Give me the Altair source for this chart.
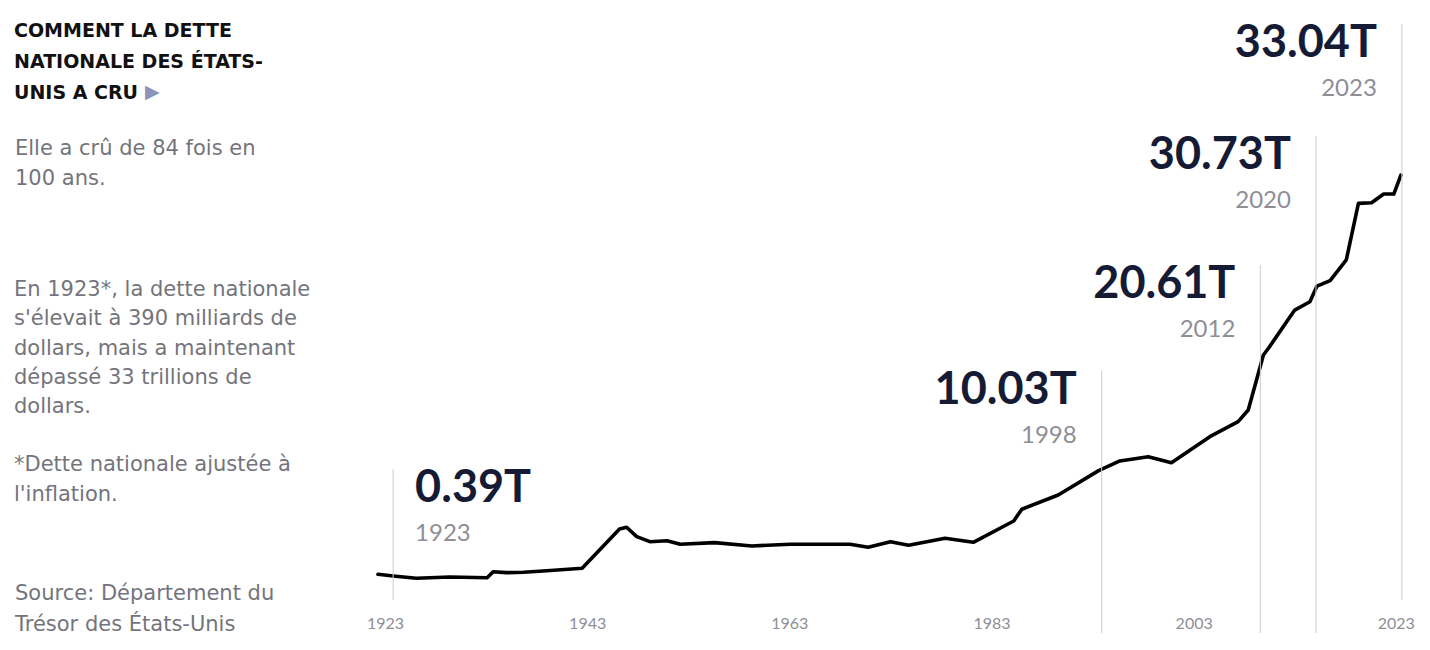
import altair as alt
import pandas as pd

# ---------------- data ----------------
years = [1922.3, 1923.8, 1926.1, 1929.4, 1933.1, 1933.7, 1935.0, 1936.7, 1939.0,
         1942.5, 1946.2, 1946.9, 1947.9, 1949.2, 1950.9, 1952.2, 1955.6, 1959.3,
         1963.1, 1969.0, 1970.8, 1973.0, 1974.8, 1978.4, 1981.2, 1985.2, 1986.0,
         1989.6, 1993.6, 1995.7, 1998.5, 2000.8, 2004.6, 2007.4, 2008.4, 2009.9,
         2010.4, 2013.0, 2014.5, 2015.2, 2016.5, 2018.1, 2019.3, 2020.6, 2021.8,
         2022.8, 2023.5]
debt = [0.45, 0.31, 0.12, 0.23, 0.17, 0.66, 0.58, 0.61, 0.74,
        0.94, 4.15, 4.29, 3.52, 3.11, 3.19, 2.90, 3.03, 2.76,
        2.90, 2.90, 2.65, 3.11, 2.82, 3.39, 3.06, 4.80, 5.76,
        6.92, 8.91, 9.70, 10.05, 9.56, 11.68, 12.91, 13.86, 18.35,
        18.90, 22.02, 22.70, 23.98, 24.42, 26.11, 30.73, 30.78, 31.49,
        31.49, 33.04]

ann_value = ["0.39T", "10.03T", "20.61T", "30.73T", "33.04T"]
ann_year = ["1923", "1998", "2012", "2020", "2023"]
ann_side = ["right", "left", "left", "left", "left"]
# where the annotation stems stand (year units) and how far they reach (T units)
ann_stem_x = [1923.8, 1993.9, 2009.6, 2015.1, 2023.6]
ann_stem_top = [9.04, 17.05, 25.70, 36.24, 45.37]
ann_stem_bottom = [-1.65, -4.34, -4.34, -4.34, -1.65]

tick_years = [1923, 1943, 1963, 1983, 2003, 2023]

title_lines = ["COMMENT LA DETTE", "NATIONALE DES ÉTATS-", "UNIS A CRU"]
intro_lines = ["Elle a crû de 84 fois en", "100 ans."]
body_lines = ["En 1923*, la dette nationale", "s'élevait à 390 milliards de",
              "dollars, mais a maintenant", "dépassé 33 trillions de", "dollars."]
note_lines = ["*Dette nationale ajustée à", "l'inflation."]
source_lines = ["Source: Département du", "Trésor des États-Unis"]

# ---------------- tables ----------------
line_df = pd.DataFrame({"year": years, "debt": debt})
ann_df = pd.DataFrame({"value": ann_value, "label_year": ann_year, "side": ann_side,
                       "stem_x": ann_stem_x, "stem_top": ann_stem_top,
                       "stem_bottom": ann_stem_bottom})
one = pd.DataFrame({"k": [0]})

NUM_FONT = "Lato"
TXT_FONT = "DejaVu Sans"
NAVY = "#161b35"
GREY = "#74747c"
LIGHT = "#8e8e96"

x_scale = alt.Scale(domain=[1885.70, 2025.59], nice=False, zero=False)
y_scale = alt.Scale(domain=[-2.06, 46.68], nice=False, zero=False)
x_axis = alt.Axis(values=tick_years, format="d", title=None, domain=False,
                  ticks=False, tickSize=0, grid=False, labelFont=NUM_FONT,
                  labelFontSize=16, labelColor=LIGHT, labelPadding=10,
                  labelFlush=False, labelOverlap=False)

line = alt.Chart(line_df).mark_line(color="#000000", strokeWidth=3.6,
                                    strokeJoin="round", strokeCap="round").encode(
    x=alt.X("year:Q", scale=x_scale, axis=x_axis),
    y=alt.Y("debt:Q", scale=y_scale, axis=None),
)

stems = alt.Chart(ann_df).mark_rule(color="#c8ccd6", strokeWidth=1).encode(
    x=alt.X("stem_x:Q", scale=x_scale, axis=x_axis),
    y=alt.Y("stem_top:Q", scale=y_scale, axis=None),
    y2="stem_bottom:Q",
)


def ann_layers(side, align, dx):
    base = alt.Chart(ann_df).transform_filter(alt.datum.side == side)
    big = base.mark_text(align=align, baseline="alphabetic", dx=dx, dy=33,
                         font=NUM_FONT, fontSize=45, fontWeight="bold", color=NAVY).encode(
        x=alt.X("stem_x:Q", scale=x_scale, axis=x_axis),
        y=alt.Y("stem_top:Q", scale=y_scale, axis=None),
        text="value:N",
    )
    small = base.mark_text(align=align, baseline="alphabetic", dx=dx, dy=72,
                           font=NUM_FONT, fontSize=24, color=LIGHT).encode(
        x=alt.X("stem_x:Q", scale=x_scale, axis=x_axis),
        y=alt.Y("stem_top:Q", scale=y_scale, axis=None),
        text="label_year:N",
    )
    return [big, small]


def text_block(lines, x, y, size, color, weight="normal", lh=30):
    return alt.Chart(one).mark_text(
        text=lines, align="left", baseline="alphabetic", font=TXT_FONT, fontSize=size,
        fontWeight=weight, color=color, lineHeight=lh,
    ).encode(x=alt.value(x), y=alt.value(y))


title = text_block(title_lines, 6, 29, 19, "#111111", "bold", 31)
arrow = alt.Chart(one).mark_text(text="▶", align="left", baseline="alphabetic",
                                 font="DejaVu Sans", fontSize=19, color="#8a93b8").encode(
    x=alt.value(137), y=alt.value(90))
intro = text_block(intro_lines, 7, 147, 21, GREY, lh=30)
body = text_block(body_lines, 6, 288, 21, GREY, lh=29.3)
note = text_block(note_lines, 6, 463, 21, GREY, lh=29.5)
source = text_block(source_lines, 7, 592, 21, GREY, lh=31)

chart = alt.layer(
    line, stems,
    *ann_layers("right", "left", 22),
    *ann_layers("left", "right", -25),
    title, arrow, intro, body, note, source,
).properties(
    width=1414, height=597,
    autosize=alt.AutoSizeParams(type="none"),
    padding={"left": 0, "right": 0, "top": 0, "bottom": 40},
    background="#ffffff",
).configure_view(stroke=None)

chart.save("out.html", embed_options={"renderer": "svg", "actions": False})
